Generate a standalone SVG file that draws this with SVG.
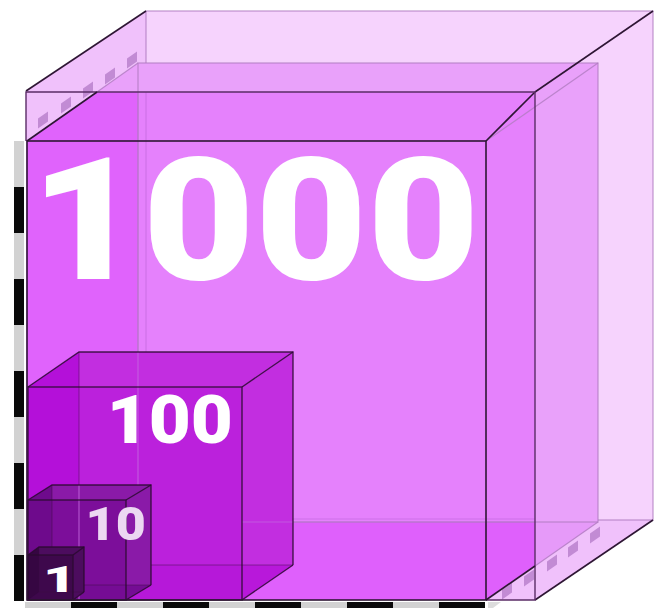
<svg xmlns="http://www.w3.org/2000/svg" width="663" height="608" viewBox="0 0 663 608">
<defs>
<style>
.lbl{font-family:Roboto,"Liberation Sans",Arial,sans-serif;font-weight:900;}
.dk{stroke:#2e1634;stroke-width:1.6;fill:none;}
.md{stroke:#5a2c66;stroke-width:1.4;fill:none;}
.lt{stroke:#b07cc0;stroke-width:1.2;fill:none;opacity:0.8;}
.faint{stroke:#c56be0;stroke-width:1.2;fill:none;opacity:0.7;}
.cube-e{stroke:#2a0a30;stroke-width:1.4;fill:none;opacity:0.85;}
.cube-l{stroke:#3a1040;stroke-width:1;fill:none;opacity:0.45;}
.grey{fill:#d2d2d2;}
.black{fill:#0a0a0a;}
.dash{fill:#c28bd4;}
</style>
<path id="d" d="M-5,-1.5 L5,-8.5 L5,1.5 L-5,8.5 Z"/>
</defs>

<g id="outer-box">
<polygon points="26,91 146,11 653,11 653,520 535,600 26,600" fill="#f6d3fd"/>
<polygon points="26,91 146,11 146,520 26,600" fill="#f0c1fb"/>
<polygon points="26,600 146,520 653,520 535,600" fill="#f0c1fb"/>
<rect x="146" y="11" width="507" height="509" class="lt"/>
</g>

<g id="cube-1000">
<polygon points="27,141 138,63 598,63 598,522 486,600 27,600" fill="#e9a1fa"/>
<polygon points="535,522 598,522 535,566" fill="#e69af9"/>
<polygon points="27,141 96.7,92 535,92 535,566 486,600 27,600" fill="#e581fc"/>
<polygon points="27,141 96.7,92 138,92 138,522 27,600" fill="#e063fc"/>
<polygon points="27,600 138,522 535,522 535,566 486,600" fill="#df60fc"/>
<line x1="138" y1="92" x2="138" y2="522" class="faint"/>
<line x1="146" y1="92" x2="146" y2="520" class="faint"/>
<line x1="138" y1="522" x2="535" y2="522" class="faint"/>
<line x1="146" y1="519" x2="535" y2="519" class="faint"/>
<rect x="138" y="63" width="460" height="459" class="lt"/>
<line x1="486" y1="141" x2="598" y2="63" class="lt"/>
<line x1="97" y1="92" x2="138" y2="63" class="lt"/>
<line x1="535" y1="566" x2="598" y2="522" class="lt"/>
<text class="lbl" font-size="170" fill="#ffffff" transform="translate(30.3,279) scale(1.14,1)">1000</text>
</g>

<g id="depth-rulers">
<use href="#d" class="dash" x="43" y="120"/>
<use href="#d" class="dash" x="66" y="105"/>
<use href="#d" class="dash" x="88" y="90"/>
<use href="#d" class="dash" x="110" y="76"/>
<use href="#d" class="dash" x="132" y="60"/>
<use href="#d" class="dash" x="507" y="591"/>
<use href="#d" class="dash" x="529" y="578"/>
<use href="#d" class="dash" x="552" y="563"/>
<use href="#d" class="dash" x="573" y="549"/>
<use href="#d" class="dash" x="595" y="535"/>
</g>

<g id="cube-100">
<polygon points="28,387 79,352 293,352 293,565 242,600 28,600" fill="#c22ee0"/>
<rect x="28" y="387" width="214" height="213" fill="#bb21dc"/>
<polygon points="28,387 79,352 79,565 28,600" fill="#b410d9"/>
<polygon points="28,600 79,565 242,565 242,600" fill="#b618d9"/>
<polygon points="242,565 293,565 242,600" fill="#b818da"/>
<line x1="79" y1="352" x2="79" y2="565" class="cube-l"/>
<line x1="79" y1="565" x2="293" y2="565" class="cube-l"/>
<line x1="138" y1="352" x2="138" y2="565" class="faint"/>
<line x1="242" y1="522" x2="293" y2="522" class="faint"/>
<polyline points="28,387 79,352 293,352 293,565" class="cube-e"/>
<line x1="242" y1="387" x2="293" y2="352" class="cube-e"/>
<line x1="242" y1="600" x2="293" y2="565" class="cube-e"/>
<rect x="28" y="387" width="214" height="213" class="cube-e"/>
<text class="lbl" font-size="66" fill="#ffffff" transform="translate(106.7,443) scale(1.1,1)">100</text>
</g>

<g id="cube-10">
<polygon points="28,500 52,485 151,485 151,585 126,600 28,600" fill="#8a1aa8"/>
<rect x="28" y="500" width="98" height="100" fill="#7c0e9a"/>
<polygon points="28,500 52,485 52,585 28,600" fill="#6e0a8c"/>
<polygon points="28,600 52,585 151,585 126,600" fill="#750c94"/>
<line x1="52" y1="485" x2="52" y2="585" class="cube-l"/>
<line x1="52" y1="585" x2="151" y2="585" class="cube-l"/>
<line x1="79" y1="485" x2="79" y2="600" class="faint"/>
<polyline points="28,500 52,485 151,485 151,585" class="cube-e"/>
<line x1="126" y1="500" x2="151" y2="485" class="cube-e"/>
<line x1="126" y1="600" x2="151" y2="585" class="cube-e"/>
<rect x="28" y="500" width="98" height="100" class="cube-e"/>
<text class="lbl" font-size="46" fill="#ecd8f2" transform="translate(85.6,540) scale(1.13,1)">10</text>
</g>

<g id="cube-1">
<polygon points="28,555 39,547 84,547 84,592 73,600 28,600" fill="#4c0c5e"/>
<rect x="28" y="555" width="45" height="45" fill="#3e084c"/>
<polygon points="28,555 39,547 39,592 28,600" fill="#360642"/>
<line x1="39" y1="547" x2="39" y2="592" class="cube-l"/>
<line x1="39" y1="592" x2="84" y2="592" class="cube-l"/>
<polyline points="28,555 39,547 84,547 84,592" class="cube-e"/>
<line x1="73" y1="555" x2="84" y2="547" class="cube-e"/>
<line x1="73" y1="600" x2="84" y2="592" class="cube-e"/>
<rect x="28" y="555" width="45" height="45" class="cube-e"/>
<text class="lbl" font-size="36" fill="#ffffff" transform="translate(43,592) scale(1.6,1)">1</text>
</g>

<g id="connectors">
<line x1="26" y1="91" x2="146" y2="11" class="dk"/>
<line x1="535" y1="92" x2="653" y2="11" class="dk"/>
<line x1="486" y1="141" x2="535" y2="92" class="dk"/>
<line x1="535" y1="600" x2="653" y2="520" class="dk"/>
<polyline points="26,141 26,92 535,92 535,600 486,600" class="md"/>
<line x1="27" y1="141" x2="97" y2="92" class="dk"/>
<line x1="486" y1="600" x2="535" y2="566" class="dk"/>
<rect x="27" y="141" width="459" height="459" class="dk" stroke-width="1.8"/>
</g>

<g id="axis-left">
<rect x="14" y="141" width="10" height="46" class="grey"/>
<rect x="14" y="187" width="10" height="46" class="black"/>
<rect x="14" y="233" width="10" height="46" class="grey"/>
<rect x="14" y="279" width="10" height="46" class="black"/>
<rect x="14" y="325" width="10" height="46" class="grey"/>
<rect x="14" y="371" width="10" height="46" class="black"/>
<rect x="14" y="417" width="10" height="46" class="grey"/>
<rect x="14" y="463" width="10" height="46" class="black"/>
<rect x="14" y="509" width="10" height="46" class="grey"/>
<rect x="14" y="555" width="10" height="46" class="black"/>
</g>

<g id="axis-bottom">
<rect x="25" y="602" width="46" height="6" class="grey"/>
<rect x="71" y="602" width="46" height="6" class="black"/>
<rect x="117" y="602" width="46" height="6" class="grey"/>
<rect x="163" y="602" width="46" height="6" class="black"/>
<rect x="209" y="602" width="46" height="6" class="grey"/>
<rect x="255" y="602" width="46" height="6" class="black"/>
<rect x="301" y="602" width="46" height="6" class="grey"/>
<rect x="347" y="602" width="46" height="6" class="black"/>
<rect x="393" y="602" width="46" height="6" class="grey"/>
<rect x="439" y="602" width="46" height="6" class="black"/>
<polygon points="488,602 501,602 493,608 488,608" fill="#dcdcdc"/>
</g>
</svg>
